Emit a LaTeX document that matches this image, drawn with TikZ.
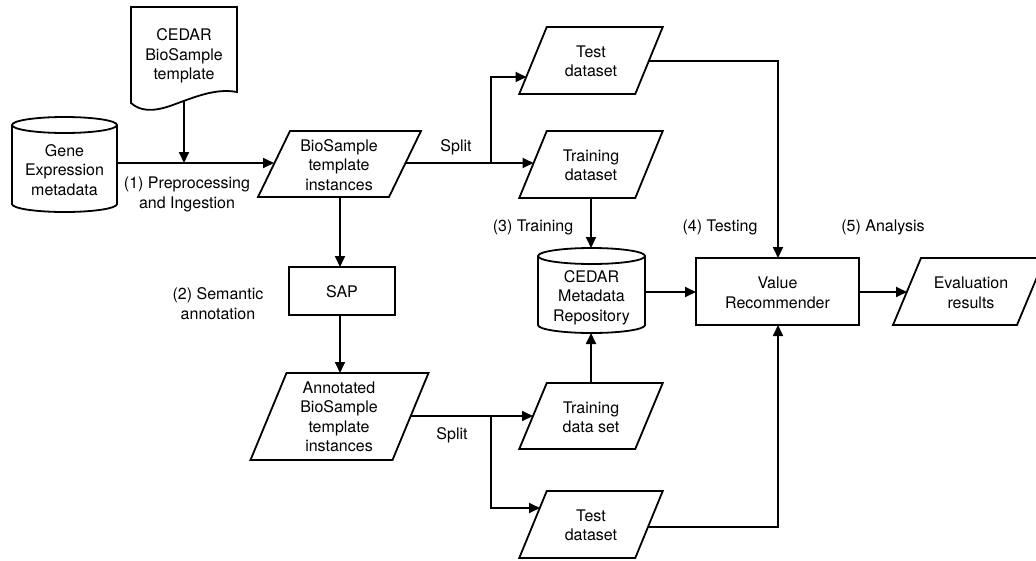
\documentclass[tikz,border=0pt]{standalone}
\usepackage{fontspec}
\setmainfont{TeX Gyre Heros}
\usetikzlibrary{arrows.meta,calc}
% parallelogram: name cx cy w h d
\newcommand\myPara[6]{%
  \draw[shp] ({#2-#4/2+#6/2},{#3-#5/2}) -- ({#2+#4/2+#6/2},{#3-#5/2}) -- ({#2+#4/2-#6/2},{#3+#5/2}) -- ({#2-#4/2-#6/2},{#3+#5/2}) -- cycle;}
% cylinder: x1 x2 ytop ybot ry
\newcommand\myCyl[5]{%
  \draw[shp] (#1,{#3+#5}) -- (#1,{#4-#5}) arc[start angle=180,end angle=0,x radius={(#2-#1)/2},y radius=#5] -- (#2,{#3+#5}) arc[start angle=360,end angle=180,x radius={(#2-#1)/2},y radius=#5] -- cycle;
  \draw[line width=1.8pt] (#1,{#3+#5}) arc[start angle=180,end angle=0,x radius={(#2-#1)/2},y radius=#5];}
\begin{document}
\begin{tikzpicture}[x=1pt,y=-1pt,line width=1.8pt,
  lbl/.style={font=\fontsize{16}{19.5}\selectfont,align=center,inner sep=0pt},
  arr/.style={-{Triangle[length=11pt,width=10pt]},line width=1.8pt},
  shp/.style={draw,line width=1.8pt,line join=miter,fill=white}]
\clip (0,0) rectangle (1036,560);
\fill[white] (0,0) rectangle (1036,560);

% ---- shapes ----
% document
\draw[shp] (131,103) -- (131,7) -- (237,7) -- (237,92) .. controls (215,88) and (195,97) .. (170,106) .. controls (152,112) and (140,111) .. (131,103) -- cycle;
\node[lbl] (doc) at (184,56) {CEDAR\\BioSample\\template};
% gene cylinder
\myCyl{12}{117}{117}{212}{8}
\node[lbl] (gene) at (64.5,170) {Gene\\Expression\\metadata};
% biosample instances
\myPara{bsi}{339.5}{164}{131}{66}{32}
\node[lbl] (bsi) at (339,165) {BioSample\\template\\instances};
% test dataset top
\myPara{t1}{591}{60.5}{116}{67}{27.5}
\node[lbl] (test1) at (591,61.5) {Test\\dataset};
% training dataset top
\myPara{tr1}{591}{164.5}{116}{67}{27.5}
\node[lbl] (train1) at (591,165.5) {Training\\dataset};
% SAP
\draw[shp] (289,267) rectangle (395,315);
\node[lbl] (sap) at (342,292) {SAP};
% annotated
\myPara{ann}{339.5}{416.5}{142}{87}{36}
\node[lbl] (ann) at (339,417) {Annotated\\BioSample\\template\\instances};
% CEDAR repo
\myCyl{538}{645}{248}{333}{8}
\node[lbl] (repo) at (591.5,297.5) {CEDAR\\Metadata\\Repository};
% value recommender
\draw[shp] (696,258) rectangle (859,325);
\node[lbl] (vr) at (777.5,293) {Value\\Recommender};
% evaluation
\myPara{ev}{969}{291.5}{124}{67}{28}
\node[lbl] (ev) at (971,293) {Evaluation\\results};
% training data set bottom
\myPara{tr2}{591}{416}{116}{66}{27.5}
\node[lbl] (train2) at (591,417.5) {Training\\data set};
% test dataset bottom
\myPara{t2}{591}{524.5}{116}{67}{27.5}
\node[lbl] (test2) at (591,525.5) {Test\\dataset};

% ---- ports ----
\coordinate (gene-e) at (117,163);
\coordinate (bsi-w) at (274,163);
\coordinate (doc-s) at (184,101);
\coordinate (join1) at (184,163);
\coordinate (bsi-e) at (405,163);
\coordinate (split1) at (491,163);
\coordinate (t1-w) at (526.5,77);
\coordinate (tr1-w) at (533.5,163);
\coordinate (bsi-s) at (340,197);
\coordinate (sap-n) at (340,267);
\coordinate (sap-s) at (340,315);
\coordinate (ann-n) at (340,373);
\coordinate (ann-e) at (410,416);
\coordinate (split2) at (491,416);
\coordinate (tr2-w) at (533,416);
\coordinate (t2-w) at (540,508);
\coordinate (tr1-s) at (591,198);
\coordinate (repo-n) at (591,248);
\coordinate (tr2-n) at (591,383);
\coordinate (repo-s) at (591,333);
\coordinate (repo-e) at (645,292);
\coordinate (vr-w) at (696,292);
\coordinate (t1-e) at (649,61);
\coordinate (vr-n) at (778,258);
\coordinate (t2-e) at (648,527);
\coordinate (vr-s) at (778,325);
\coordinate (vr-e) at (859,292);
\coordinate (ev-w) at (907,292);

% ---- connectors ----
\draw[arr] (gene-e) -- (bsi-w);
\draw[arr] (doc-s) -- (join1);
\draw (bsi-e) -- (split1);
\draw[arr] (split1) |- (t1-w);
\draw[arr] (split1) -- (tr1-w);
\draw[arr] (bsi-s) -- (sap-n);
\draw[arr] (sap-s) -- (ann-n);
\draw (ann-e) -- (split2);
\draw[arr] (split2) -- (tr2-w);
\draw[arr] (split2) |- (t2-w);
\draw[arr] (tr1-s) -- (repo-n);
\draw[arr] (tr2-n) -- (repo-s);
\draw[arr] (repo-e) -- (vr-w);
\draw[arr] (t1-e) -| (vr-n);
\draw[arr] (t2-e) -| (vr-s);
\draw[arr] (vr-e) -- (ev-w);

% ---- labels ----
\node[lbl] (l1) at (187,194.5) {(1) Preprocessing\\and Ingestion};
\node[lbl] (ls1) at (456,147) {Split};
\node[lbl] (ls2) at (452,435) {Split};
\node[lbl] (l2) at (218,303.5) {(2) Semantic\\annotation};
\node[lbl] (l3) at (533,227.5) {(3) Training};
\node[lbl] (l4) at (720,227.5) {(4) Testing};
\node[lbl] (l5) at (883,227.5) {(5) Analysis};
\end{tikzpicture}
\end{document}
